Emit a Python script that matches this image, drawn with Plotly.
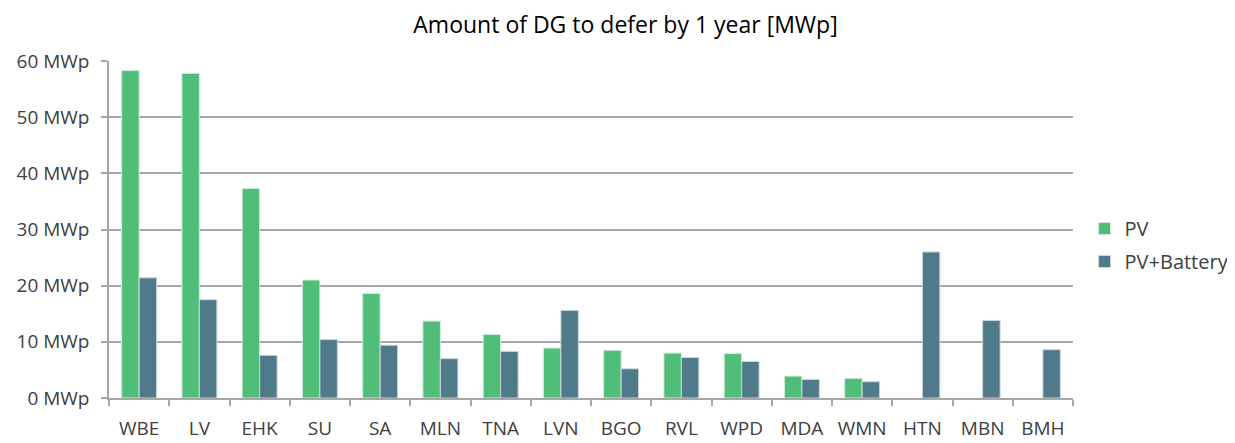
import plotly.graph_objects as go

# categories and values (MWp)
feeders = ['WBE', 'LV', 'EHK', 'SU', 'SA', 'MLN', 'TNA', 'LVN',
           'BGO', 'RVL', 'WPD', 'MDA', 'WMN', 'HTN', 'MBN', 'BMH']
pv = [58.3, 57.8, 37.3, 21.0, 18.6, 13.7, 11.3, 8.9,
      8.5, 8.0, 7.9, 3.9, 3.5, None, None, None]
pv_battery = [21.4, 17.5, 7.6, 10.4, 9.4, 7.0, 8.3, 15.6,
              5.2, 7.2, 6.5, 3.3, 2.9, 26.0, 13.8, 8.6]
y_ticks = [0, 10, 20, 30, 40, 50, 60]
y_labels = [f'{v} MWp' for v in y_ticks]

FONT = 'Open Sans, Liberation Sans, sans-serif'
GRID = '#a6a6a6'
TXT = '#404040'

fig = go.Figure()
fig.add_trace(go.Bar(x=feeders, y=pv, name='PV', legendgroup='pv',
                     marker=dict(color='#50be78', line=dict(color='#cfeedd', width=1))))
fig.add_trace(go.Bar(x=feeders, y=pv_battery, name='PV+Battery', legendgroup='pvb',
                     marker=dict(color='#4f7a8a', line=dict(color='#c9d6dc', width=1))))

# page body has an 8px margin, so margins are offset by that
fig.update_layout(
    width=1235, height=443,
    barmode='group', bargap=0.42, bargroupgap=0,
    plot_bgcolor='white', paper_bgcolor='white',
    font=dict(family=FONT, size=19, color=TXT),
    title=dict(text='Amount of DG to defer by 1 year [MWp]', x=0.5, xanchor='center',
               y=0.962, yanchor='middle', font=dict(family=FONT, size=23, color='black')),
    margin=dict(l=101, r=170, t=53, b=53, autoexpand=False),
    legend=dict(x=1.012, xanchor='left', y=0.454, yanchor='middle',
                font=dict(size=20, color=TXT), itemwidth=30,
                tracegroupgap=4),
    showlegend=True,
)
fig.update_xaxes(showline=True, linecolor=GRID, linewidth=1.5, ticks='outside',
                 tickson='boundaries', ticklen=6, tickcolor=GRID, tickwidth=1.5,
                 ticklabelstandoff=12,
                 showgrid=False, automargin=False, tickfont=dict(size=19, color=TXT))
fig.update_yaxes(range=[0, 60], tickmode='array', tickvals=y_ticks, ticktext=y_labels,
                 showline=True, linecolor=GRID, linewidth=1.5, ticks='outside',
                 ticklen=6, tickcolor=GRID, tickwidth=1.5, automargin=False,
                 ticklabelstandoff=8,
                 showgrid=True, gridcolor=GRID, gridwidth=1.5, zeroline=False,
                 tickfont=dict(size=19, color=TXT))

fig.write_html('out.html')
